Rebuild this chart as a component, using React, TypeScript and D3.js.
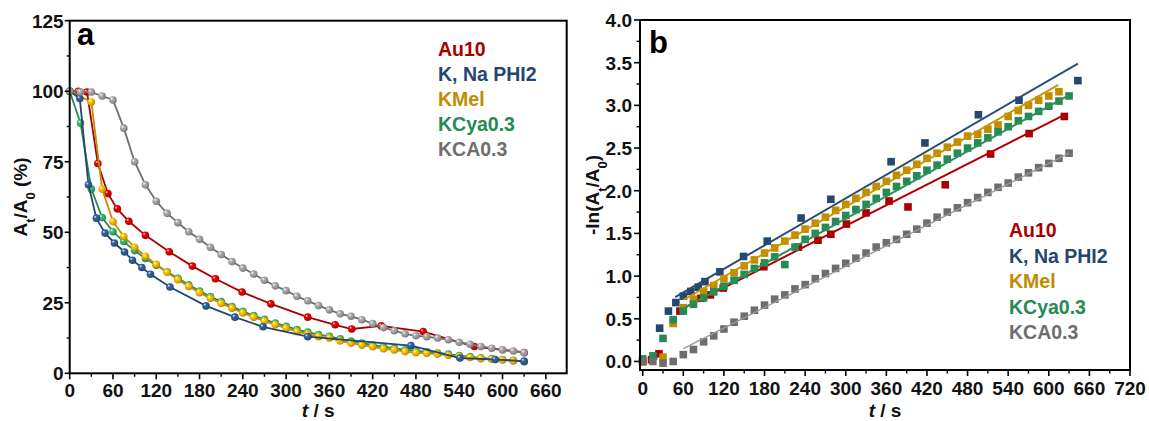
import React from 'react';
import * as d3 from 'd3';

// ---------- shared ----------
const seriesNames = ['Au10', 'K, Na PHI2', 'KMel', 'KCya0.3', 'KCA0.3'];
const seriesColors = ['#a80000', '#24476f', '#c08c00', '#268a55', '#6e6e6e'];
const sphereColors = ['#c40000', '#2b5282', '#d9a400', '#2e9c60', '#8e8e8e'];

const t15 = [0, 15, 30, 45, 60, 75, 90, 105, 120, 135, 150, 165, 180, 195, 210, 225, 240, 255, 270, 285, 300, 315, 330, 345, 360, 375, 390, 405, 420, 435, 450, 465, 480, 495, 510, 525, 540, 555, 570, 585, 600, 615, 630];
const melT = [0, 30, 45, 60, 75, 90, 105, 120, 135, 150, 165, 180, 195, 210, 225, 240, 255, 270, 285, 300, 315, 330, 345, 360, 375, 390, 405, 420, 435, 450, 465, 480, 495, 510, 525, 540, 555, 570, 585, 600, 615];

// ---------- panel a: At/A0 (%) ----------
const aAuT = [0, 12, 24, 39, 53, 66, 82, 105, 138, 170, 202, 239, 279, 330, 368, 391, 432, 490, 561, 630];
const aAuV = [100, 100, 99.7, 74.4, 63.7, 58.3, 53.9, 48.9, 43.1, 38, 33.5, 28.8, 24.6, 19.9, 17.2, 15.7, 16.8, 14.8, 9.5, 7.4];
const aPhiT = [0, 14, 26, 37, 49, 62, 76, 87, 100, 112, 139, 189, 229, 268, 330, 473, 541, 590, 630];
const aPhiV = [100, 97.4, 66.8, 55, 49.7, 46.2, 43, 40.1, 37.5, 35.1, 30.6, 23.9, 19.9, 16.5, 13.0, 9.8, 5.4, 4.9, 4.3];
const aMelV = [100, 96.2, 65.3, 53.8, 48.5, 44.7, 41.5, 38.6, 35.8, 33.2, 30.8, 28.6, 26.6, 24.8, 23.1, 21.4, 19.9, 18.5, 17.2, 16.0, 14.8, 13.9, 13.0, 12.5, 11.5, 10.7, 10.0, 9.4, 8.7, 8.3, 7.7, 7.3, 7.1, 6.8, 6.4, 5.9, 5.6, 5.2, 5.0, 4.7, 4.4];
const aCyaV = [100, 88.7, 65.3, 55.2, 50.2, 46.7, 43.5, 40.7, 38.3, 36, 33.7, 31.4, 29.2, 27.2, 25.4, 23.7, 22.0, 20.5, 19.1, 17.8, 16.7, 15.5, 14.6, 13.7, 13.1, 12.2, 11.4, 10.7, 10.1, 9.4, 8.9, 8.3, 7.9, 7.6, 7.2, 6.8, 6.3, 5.9, 5.5, 5.2, 4.9, 4.6, 4.1];
const aKcaV = [100, 99.7, 99.7, 98.3, 96.9, 86.9, 75, 66.8, 61, 56.7, 53.4, 50.2, 47.5, 44.7, 42.1, 39.6, 37.3, 35.2, 33, 31, 29.3, 27.3, 25.7, 24, 22.5, 21.1, 20.2, 19, 17.6, 16.2, 15.1, 14, 13.3, 13, 12.5, 11.9, 11, 10.3, 9.5, 8.9, 8.3, 7.9, 7.3];

const aXTicks = [0, 60, 120, 180, 240, 300, 360, 420, 480, 540, 600, 660];
const aYTicks = [0, 25, 50, 75, 100, 125];

// ---------- panel b: -ln(At/A0) ----------
const bAuT = [0, 13, 24, 55, 86, 100, 119, 179, 230, 259, 278, 301, 330, 364, 392, 447, 514, 571, 623];
const bAuV = [0, 0.02, 0.09, 0.59, 0.74, 0.78, 0.86, 1.11, 1.34, 1.42, 1.49, 1.61, 1.74, 1.88, 1.81, 2.07, 2.43, 2.67, 2.87];
const bPhiT = [0, 16, 25, 38, 49, 60, 71, 82, 92, 114, 149, 184, 234, 278, 367, 417, 496, 556, 643];
const bPhiV = [0, 0.06, 0.39, 0.59, 0.69, 0.765, 0.82, 0.87, 0.935, 1.05, 1.23, 1.41, 1.68, 1.90, 2.34, 2.56, 2.89, 3.06, 3.29];
const bMelV = [0, 0.05, 0.445, 0.63, 0.73, 0.82, 0.89, 0.97, 1.04, 1.12, 1.19, 1.27, 1.33, 1.41, 1.48, 1.55, 1.62, 1.69, 1.77, 1.84, 1.91, 1.98, 2.05, 2.11, 2.18, 2.24, 2.31, 2.38, 2.44, 2.51, 2.57, 2.64, 2.66, 2.72, 2.77, 2.87, 2.94, 3.00, 3.06, 3.11, 3.16];
const bCyaV = [0.03, 0.065, 0.27, 0.49, 0.59, 0.67, 0.745, 0.815, 0.88, 0.95, 1.02, 1.09, 1.155, 1.225, 1.135, 1.34, 1.43, 1.50, 1.57, 1.64, 1.71, 1.78, 1.84, 1.91, 1.98, 2.05, 2.11, 2.175, 2.24, 2.30, 2.37, 2.44, 2.50, 2.56, 2.62, 2.69, 2.75, 2.82, 2.87, 2.93, 2.99, 3.05, 3.11];
const bKcaV = [0, 0, -0.02, 0, 0.08, 0.14, 0.23, 0.30, 0.38, 0.46, 0.53, 0.60, 0.66, 0.73, 0.78, 0.85, 0.90, 0.97, 1.03, 1.09, 1.15, 1.21, 1.27, 1.34, 1.39, 1.43, 1.49, 1.55, 1.62, 1.69, 1.75, 1.80, 1.86, 1.92, 1.98, 2.04, 2.09, 2.16, 2.21, 2.27, 2.32, 2.38, 2.44];

// linear fits: slope, intercept, t range
const fitSlope = [0.004025, 0.0046, 0.00455, 0.004386, 0.004018];
const fitIntercept = [0.382, 0.532, 0.447, 0.357, -0.091];
const fitStart = [55, 48, 60, 60, 60];
const fitEnd = [623, 643, 614, 630, 630];
const fitColors = ['#b00000', '#2a4d75', '#c99500', '#2e8f5a', '#9a9a9a'];

const bXTicks = [0, 60, 120, 180, 240, 300, 360, 420, 480, 540, 600, 660, 720];
const bYTicks = [0, 0.5, 1.0, 1.5, 2.0, 2.5, 3.0, 3.5, 4.0];

const FONT = '"Liberation Sans", Arial, Helvetica, sans-serif';

type Pt = [number, number];
const zip = (t: number[], v: number[]): Pt[] => t.map((x, i) => [x, v[i]]);

export default function App() {
  const ax = d3.scaleLinear().domain([0, 689]).range([69.7, 566.7]);
  const ay = d3.scaleLinear().domain([0, 125]).range([373.3, 20.7]);
  const bx = d3.scaleLinear().domain([-4, 720]).range([640, 1130]);
  const by = d3.scaleLinear().domain([-0.1, 4.0]).range([370, 20]);

  const aSeries: Pt[][] = [
    zip(aAuT, aAuV),
    zip(aPhiT, aPhiV),
    zip(melT, aMelV),
    zip(t15, aCyaV),
    zip(t15, aKcaV),
  ];
  const bSeries: Pt[][] = [
    zip(bAuT, bAuV),
    zip(bPhiT, bPhiV),
    zip(melT, bMelV),
    zip(t15, bCyaV),
    zip(t15, bKcaV),
  ];

  const aLine = d3.line<Pt>().x(d => ax(d[0])).y(d => ay(d[1]));
  const aOrder = [0, 3, 2, 1, 4];
  const bOrder = [0, 1, 2, 3, 4];

  const aXMinor = aXTicks.map(t => t + 30).filter(t => t < 689);
  const aYMinor = aYTicks.map(t => t + 12.5).filter(t => t < 125);
  const bXMinor = bXTicks.map(t => t + 30).filter(t => t < 720);
  const bYMinor = bYTicks.map(t => t + 0.25).filter(t => t < 4.0);

  const axisColor = '#000';
  const tickStyle = { fontFamily: FONT, fontWeight: 700, fontSize: 19, fill: '#111' } as const;

  return (
    <svg width={1149} height={421} style={{ position: 'absolute', left: 0, top: 0, background: '#fff' }}>
      <defs>
        {sphereColors.map((c, i) => (
          <radialGradient key={i} id={`sph${i}`} cx="0.42" cy="0.42" r="0.62" fx="0.32" fy="0.3">
            <stop offset="0%" stopColor="#ffffff" />
            <stop offset="30%" stopColor={d3.color(c)!.brighter(0.6).formatHex()} />
            <stop offset="75%" stopColor={c} />
            <stop offset="100%" stopColor={d3.color(c)!.darker(0.8).formatHex()} />
          </radialGradient>
        ))}
      </defs>
      <rect x={0} y={0} width={1149} height={421} fill="#fff" />

      {/* ================= panel a ================= */}
      <g>
        {aOrder.map(i => (
          <g key={i}>
            <path d={aLine(aSeries[i]) || ''} fill="none" stroke={seriesColors[i]} strokeWidth={1.8} />
            {aSeries[i].map((d, j) => (
              <circle key={j} cx={ax(d[0])} cy={ay(d[1])} r={3.8} fill={`url(#sph${i})`} />
            ))}
          </g>
        ))}
        <rect x={ax(0)} y={ay(125)} width={ax(689) - ax(0)} height={ay(0) - ay(125)} fill="none" stroke={axisColor} strokeWidth={2} />
        {aXTicks.map(t => (
          <g key={t}>
            <line x1={ax(t)} x2={ax(t)} y1={ay(0)} y2={ay(0) + 6} stroke={axisColor} strokeWidth={1.6} />
            <text x={ax(t)} y={397} textAnchor="middle" {...tickStyle}>{t}</text>
          </g>
        ))}
        {aXMinor.map(t => (
          <line key={t} x1={ax(t)} x2={ax(t)} y1={ay(0)} y2={ay(0) + 3.5} stroke={axisColor} strokeWidth={1.4} />
        ))}
        {aYTicks.map(v => (
          <g key={v}>
            <line x1={ax(0) - 5} x2={ax(0)} y1={ay(v)} y2={ay(v)} stroke={axisColor} strokeWidth={1.6} />
            <text x={ax(0) - 6} y={ay(v) + 7} textAnchor="end" {...tickStyle}>{v}</text>
          </g>
        ))}
        {aYMinor.map(v => (
          <line key={v} x1={ax(0) - 3} x2={ax(0)} y1={ay(v)} y2={ay(v)} stroke={axisColor} strokeWidth={1.4} />
        ))}
        <text x={77} y={45} style={{ fontFamily: FONT, fontWeight: 700, fontSize: 31 }} fill="#000">a</text>
        {seriesNames.map((n, i) => (
          <text key={n} x={438} y={56 + i * 25} style={{ fontFamily: FONT, fontWeight: 700, fontSize: 19.5 }} fill={seriesColors[i]}>{n}</text>
        ))}
        <text transform={`translate(27,${(ay(0) + ay(125)) / 2}) rotate(-90)`} textAnchor="middle" style={{ fontFamily: FONT, fontWeight: 700, fontSize: 19 }} fill="#111">
          A<tspan baselineShift="sub" fontSize={13}>t</tspan>/A<tspan baselineShift="sub" fontSize={13}>0</tspan> (%)
        </text>
        <text x={(ax(0) + ax(689)) / 2} y={417} textAnchor="middle" style={{ fontFamily: FONT, fontWeight: 700, fontSize: 19 }} fill="#111">
          <tspan fontStyle="italic">t</tspan> / s
        </text>
      </g>

      {/* ================= panel b ================= */}
      <g>
        {bOrder.map(i => {
          const x1 = fitStart[i];
          const x2 = fitEnd[i];
          return (
            <g key={i}>
              {bSeries[i].map((d, j) => (
                <rect key={j} x={bx(d[0]) - 3.8} y={by(d[1]) - 3.8} width={7.6} height={7.6} fill={seriesColors[i]} />
              ))}
              <line
                x1={bx(x1)} y1={by(fitIntercept[i] + fitSlope[i] * x1)}
                x2={bx(x2)} y2={by(fitIntercept[i] + fitSlope[i] * x2)}
                stroke={fitColors[i]} strokeWidth={i === 4 ? 1.4 : 2}
              />
            </g>
          );
        })}
        <rect x={bx(-4)} y={by(4)} width={bx(720) - bx(-4)} height={by(-0.1) - by(4)} fill="none" stroke={axisColor} strokeWidth={2} />
        {bXTicks.map(t => (
          <g key={t}>
            <line x1={bx(t)} x2={bx(t)} y1={by(-0.1)} y2={by(-0.1) + 6} stroke={axisColor} strokeWidth={1.6} />
            <text x={bx(t)} y={395} textAnchor="middle" {...tickStyle}>{t}</text>
          </g>
        ))}
        {bXMinor.map(t => (
          <line key={t} x1={bx(t)} x2={bx(t)} y1={by(-0.1)} y2={by(-0.1) + 3.5} stroke={axisColor} strokeWidth={1.4} />
        ))}
        {bYTicks.map(v => (
          <g key={v}>
            <line x1={bx(-4) - 6} x2={bx(-4)} y1={by(v)} y2={by(v)} stroke={axisColor} strokeWidth={1.6} />
            <text x={bx(-4) - 8} y={by(v) + 7} textAnchor="end" {...tickStyle}>{v.toFixed(1)}</text>
          </g>
        ))}
        {bYMinor.map(v => (
          <line key={v} x1={bx(-4) - 3.5} x2={bx(-4)} y1={by(v)} y2={by(v)} stroke={axisColor} strokeWidth={1.4} />
        ))}
        <text x={649} y={53} style={{ fontFamily: FONT, fontWeight: 700, fontSize: 31 }} fill="#000">b</text>
        {seriesNames.map((n, i) => (
          <text key={n} x={1009} y={237 + i * 25.5} style={{ fontFamily: FONT, fontWeight: 700, fontSize: 19.5 }} fill={seriesColors[i]}>{n}</text>
        ))}
        <text transform={`translate(599,${(by(-0.1) + by(4)) / 2}) rotate(-90)`} textAnchor="middle" style={{ fontFamily: FONT, fontWeight: 700, fontSize: 19 }} fill="#111">
          -ln(A<tspan baselineShift="sub" fontSize={13}>t</tspan>/A<tspan baselineShift="sub" fontSize={13}>0</tspan>)
        </text>
        <text x={(bx(-4) + bx(720)) / 2} y={417} textAnchor="middle" style={{ fontFamily: FONT, fontWeight: 700, fontSize: 19 }} fill="#111">
          <tspan fontStyle="italic">t</tspan> / s
        </text>
      </g>
    </svg>
  );
}
